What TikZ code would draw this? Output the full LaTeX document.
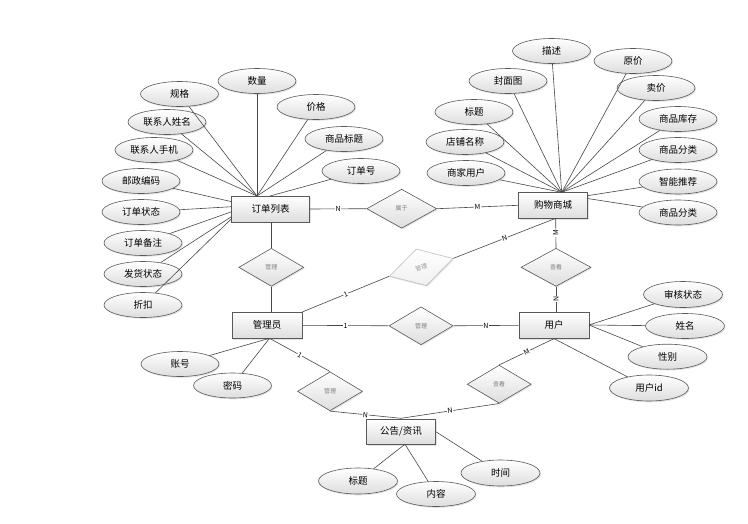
\documentclass[tikz,border=0pt]{standalone}
\usepackage{fontspec}
\setmainfont{Noto Sans CJK SC}
\usetikzlibrary{shapes.geometric,shadows}
\begin{document}
\begin{tikzpicture}[x=1pt,y=-1pt,
  shade/.style={top color=white, bottom color=black!13},
  shad/.style={drop shadow={opacity=0.22,shadow xshift=1pt,shadow yshift=-1.3pt}},
  attr/.style={ellipse, draw=black!65, line width=0.6pt, shade, shad,
    minimum width=78pt, minimum height=25pt, inner sep=0pt,
    font=\fontsize{9.5}{11}\selectfont},
  ent/.style={rectangle, draw=black!65, line width=0.7pt, shade, shad,
    minimum width=70pt, minimum height=26pt, inner sep=0pt,
    font=\fontsize{9.5}{11}\selectfont},
  rel/.style={diamond, draw=black!65, line width=0.6pt, shade, shad,
    minimum width=65pt, minimum height=38pt, inner sep=0pt,
    text=black!50, font=\fontsize{6}{7}\selectfont},
  lbl/.style={fill=white, inner sep=0.6pt, font=\fontsize{7}{8}\selectfont},
  link/.style={draw=black!72, line width=0.6pt}
]
\useasboundingbox (0,0) rectangle (748,523);

% ---------- entities ----------
\node[ent, minimum width=78pt] (dd) at (270.5,209) {订单列表};
\node[ent, minimum width=69pt] (gwsc) at (553,205.3) {购物商城};
\node[ent] (gly) at (267,325.3) {管理员};
\node[ent] (yh) at (554,325.3) {用户};
\node[ent, minimum width=69pt, minimum height=25pt] (gg2) at (401,431.7) {公告/资讯};

% ---------- relations ----------
\node[rel, minimum width=70pt, minimum height=39pt] (sy) at (401.7,208.7) {属于};
\node[rel] (gl1) at (271.3,267.3) {管理};
\node[rel, minimum width=70pt] (ck1) at (556,267.3) {查看};
\node[rel, minimum width=66pt, rotate=15.6, draw=black!25, text=black!40,
      top color=white, bottom color=black!6] (glr) at (421.3,267.3) {管理};
\node[rel, minimum width=64pt] (gl2) at (421,325.8) {管理};
\node[rel, minimum height=39pt] (gl3) at (330,391.3) {管理};
\node[rel, minimum width=64pt] (ck2) at (499.2,384.2) {查看};

% ---------- attributes of 订单列表 ----------
\node[attr] (gg) at (179.5,94) {规格};
\node[attr] (sl) at (257,81) {数量};
\node[attr] (jg) at (316,107) {价格};
\node[attr] (spbt) at (344,139) {商品标题};
\node[attr] (ddh) at (361,171) {订单号};
\node[attr] (lxxm) at (167,122) {联系人姓名};
\node[attr] (lxsj) at (154,150) {联系人手机};
\node[attr] (yzbm) at (141,181) {邮政编码};
\node[attr] (ddzt) at (141,212) {订单状态};
\node[attr] (ddbz) at (143,243) {订单备注};
\node[attr] (fhzt) at (143,274) {发货状态};
\node[attr] (zk) at (143,305) {折扣};

% ---------- attributes of 购物商城 ----------
\node[attr] (ms) at (551.5,51) {描述};
\node[attr] (yj) at (633,61) {原价};
\node[attr] (fmt) at (508,81) {封面图};
\node[attr] (mj) at (656,88) {卖价};
\node[attr] (bt) at (474,112) {标题};
\node[attr] (spkc) at (678,119) {商品库存};
\node[attr] (dpmc) at (465,142) {店铺名称};
\node[attr] (spfla) at (678,150) {商品分类};
\node[attr] (sjyh) at (466,173) {商家用户};
\node[attr] (zntj) at (678,181.5) {智能推荐};
\node[attr] (spflb) at (678,212.5) {商品分类};

% ---------- attributes of 用户 ----------
\node[attr, minimum width=79pt, minimum height=26pt] (shzt) at (683,294.5) {审核状态};
\node[attr, minimum width=79pt] (xm) at (685,326) {姓名};
\node[attr, minimum width=79pt] (xb) at (667.5,356.7) {性别};
\node[attr, minimum width=79pt, minimum height=26pt] (yhid) at (649,388) {用户id};

% ---------- attributes of 管理员 ----------
\node[attr] (zh) at (180,364) {账号};
\node[attr] (mm) at (232.5,385.5) {密码};

% ---------- attributes of 公告/资讯 ----------
\node[attr, minimum width=79pt, minimum height=26pt] (bt2) at (358,481) {标题};
\node[attr, minimum width=79pt] (nr) at (436,494) {内容};
\node[attr, minimum width=79pt, minimum height=26pt] (sj) at (500.5,473) {时间};

% ---------- connector end points ----------
\coordinate (ddT) at (257,196);
\coordinate (ddTb) at (270,196);
\coordinate (ddL1) at (231.7,201.7);
\coordinate (ddL2) at (231.7,206.7);
\coordinate (ddL3) at (231.7,211.7);
\coordinate (ddL4) at (231.7,216.5);
\coordinate (ddL5) at (231.7,218.5);
\coordinate (scT) at (561.7,192.3);
\coordinate (scR1) at (587.5,195.7);
\coordinate (scR2) at (587.5,198.5);
\coordinate (scB) at (555.7,218.3);
\coordinate (yhR) at (589,325);
\coordinate (glyB) at (269.5,338.3);
\coordinate (ggT) at (401,418.3);
\coordinate (ggB) at (405,444.2);

% ---------- attribute lines ----------
\foreach \a in {gg,sl,lxxm,lxsj,jg,spbt} \draw[link] (\a) -- (ddT);
\draw[link] (ddh) -- (ddTb);
\draw[link] (yzbm) -- (ddL1);
\draw[link] (ddzt) -- (ddL2);
\draw[link] (ddbz) -- (ddL3);
\draw[link] (fhzt) -- (ddL4);
\draw[link] (zk) -- (ddL5);

\foreach \a in {ms,yj,fmt,mj,bt,spkc,dpmc,spfla,sjyh} \draw[link] (\a) -- (scT);
\draw[link] (zntj) -- (scR1);
\draw[link] (spflb) -- (scR2);

\foreach \a in {shzt,xm,xb} \draw[link] (\a) -- (yhR);
\draw[link] (yhid) -- (yh.south);

\draw[link] (zh) -- (glyB);
\draw[link] (mm) -- (glyB);

\draw[link] (bt2) -- (ggB);
\draw[link] (nr) -- (ggB);
\draw[link] (sj) -- (gg2.east);

% ---------- relationship lines ----------
\draw[link] (dd.east) -- node[lbl]{N} (sy.west);
\draw[link] (sy.east) -- node[lbl]{M} (gwsc.west);
\draw[link] (dd.south -| gl1.north) -- (gl1.north);
\draw[link] (gl1.south) -- (gl1.south |- gly.north);
\draw[link] (scB) -- node[lbl,rotate=90]{M} (ck1.north);
\draw[link] (ck1.south) -- node[lbl,rotate=90]{N} (ck1.south |- yh.north);
\draw[link] (scB) -- node[lbl,sloped]{N} (glr.east);
\draw[link] (gly.north east) -- node[lbl,sloped]{1} (glr.west);
\draw[link] (gly.east) -- node[lbl]{1} (gl2.west);
\draw[link] (gl2.east) -- node[lbl]{N} (yh.west);
\draw[link] (glyB) -- node[lbl,sloped]{1} (gl3.north);
\draw[link] (gl3.south) -- node[lbl,sloped]{N} (ggT);
\draw[link] (yh.south) -- node[lbl,sloped]{M} (ck2.north);
\draw[link] (ck2.south) -- node[lbl,sloped]{N} (ggT);
\end{tikzpicture}
\end{document}
